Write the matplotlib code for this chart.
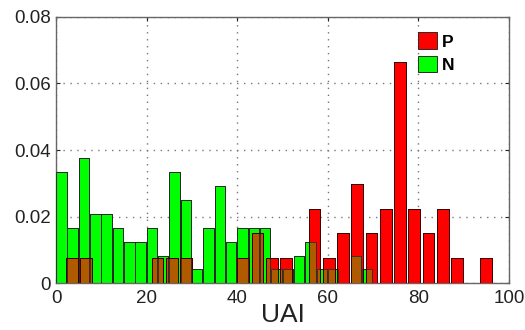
import numpy as np
import matplotlib
matplotlib.use("Agg")
import matplotlib.pyplot as plt

# N (green) histogram: bins of 2.5 starting at 0
n_left = np.arange(0, 70, 2.5)[:28]
n_vals = [0.0333, 0.0167, 0.0375, 0.0208, 0.0208, 0.0167, 0.0125, 0.0125,
          0.0167, 0.0083, 0.0333, 0.0250, 0.0042, 0.0167, 0.0292, 0.0125,
          0.0167, 0.0167, 0.0167, 0.0042, 0.0042, 0.0083, 0.0125, 0.0042,
          0.0042, 0.0, 0.0083, 0.0042]
# P (red) histogram: bins of 3.15 starting at 2.2
p_left = 2.2 + 3.15 * np.arange(30)
p_vals = [0.0075, 0.0075, 0, 0, 0, 0, 0.0075, 0.0075, 0.0075, 0,
          0, 0, 0.0075, 0.0150, 0.0075, 0.0075, 0, 0.0222, 0.0075, 0.0150,
          0.0297, 0.0150, 0.0222, 0.0665, 0.0222, 0.0150, 0.0222, 0.0075, 0, 0.0075]

n_width = 2.3
p_width = 2.6

red = "#ff0000"
green = "#00ff00"
brown = "#b05a00"
edge = "#2a2a2a"

plt.rcParams['font.family'] = ['Liberation Sans', 'DejaVu Sans']

fig = plt.figure(figsize=(5.25, 3.3), dpi=100)
ax = fig.add_axes([0.107, 0.1415, 0.8625, 0.8075])

# 塗りつぶし
ax.bar(n_left, n_vals, width=n_width, align='edge', color=green, edgecolor=edge, linewidth=0.7, zorder=2, label='N')
ax.bar(p_left, p_vals, width=p_width, align='edge', color=red, edgecolor=edge, linewidth=0.7, zorder=3, label='P')

# 重なり部分を茶色で
ov_left, ov_w, ov_h = [], [], []
for g0, hg in zip(n_left, n_vals):
    for r0, hr in zip(p_left, p_vals):
        a = max(g0, r0)
        b = min(g0 + n_width, r0 + p_width)
        h = min(hg, hr)
        if b > a and h > 0:
            ov_left.append(a)
            ov_w.append(b - a)
            ov_h.append(h)
ax.bar(ov_left, ov_h, width=ov_w, align='edge', color=brown, linewidth=0, zorder=4)

# 枠線を上に描き直す
ax.bar(n_left, n_vals, width=n_width, align='edge', fill=False, edgecolor=edge, linewidth=0.6, zorder=5)
ax.bar(p_left, p_vals, width=p_width, align='edge', fill=False, edgecolor="#3a0000", linewidth=0.7, zorder=6)

ax.set_xlim(0, 100)
ax.set_ylim(0, 0.08)
ax.set_xticks([0, 20, 40, 60, 80, 100])
ax.set_yticks([0, 0.02, 0.04, 0.06, 0.08])
ax.set_yticklabels(['0', '0.02', '0.04', '0.06', '0.08'])
ax.tick_params(direction='in', length=3, labelsize=13.5, colors='#222222',
               top=True, right=True)
ax.tick_params(axis='x', pad=5)
ax.tick_params(axis='y', pad=4)
ax.grid(True, linestyle=(0, (1, 4)), color='#777777', linewidth=1.0, zorder=1)
ax.set_axisbelow(True)
for s in ax.spines.values():
    s.set_color('#666666')
    s.set_linewidth(1.0)

ax.set_xlabel('UAI', fontsize=19, labelpad=-3, color='#222222')

handles, labels = ax.get_legend_handles_labels()
leg = ax.legend(handles[::-1], labels[::-1], loc='upper right', bbox_to_anchor=(0.915, 1.0),
                frameon=False, handlelength=1.1, handleheight=1.1, handletextpad=0.3,
                labelspacing=0.35, prop={'weight': 'bold', 'size': 12.5})

fig.savefig('out.png', dpi=100)
